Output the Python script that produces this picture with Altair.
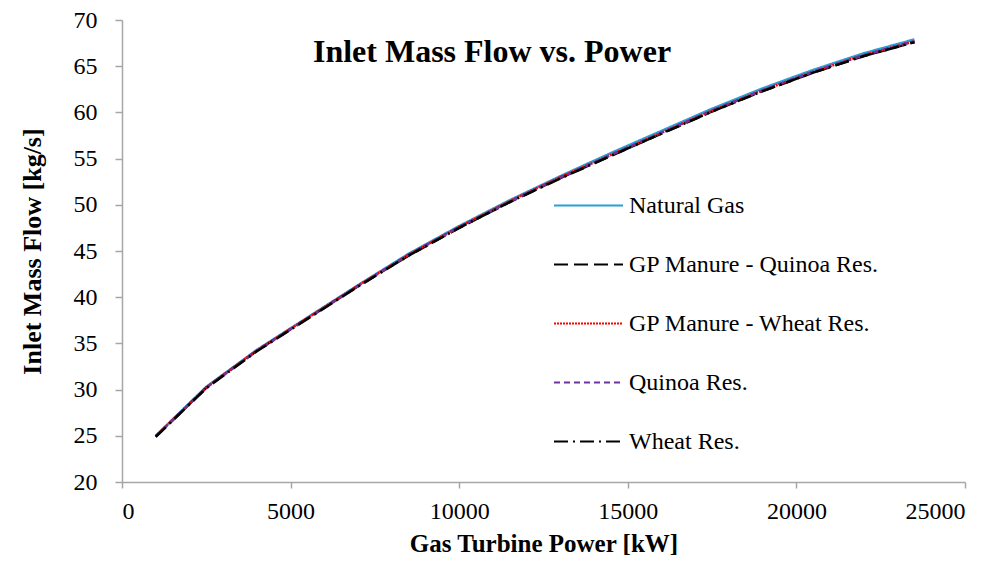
import altair as alt
import pandas as pd

power_kw = [1000, 2500, 4000, 5500, 7000, 8500, 10000, 11500, 13000, 14500,
            16000, 17500, 19000, 20500, 22000, 23500]

natural_gas = [25.0, 30.3, 34.3, 37.8, 41.3, 44.7, 47.7, 50.5, 53.1, 55.6,
               58.0, 60.4, 62.6, 64.6, 66.4, 67.9]
gp_quinoa = [24.9, 30.2, 34.2, 37.7, 41.2, 44.5, 47.5, 50.3, 52.9, 55.3,
             57.7, 60.1, 62.3, 64.3, 66.1, 67.6]
gp_wheat = [24.95, 30.25, 34.25, 37.75, 41.25, 44.6, 47.6, 50.4, 53.0, 55.4,
            57.8, 60.2, 62.4, 64.4, 66.2, 67.7]
quinoa_res = [24.95, 30.2, 34.2, 37.7, 41.2, 44.6, 47.6, 50.35, 52.95, 55.4,
              57.8, 60.2, 62.4, 64.4, 66.2, 67.7]
wheat_res = [24.9, 30.15, 34.15, 37.65, 41.15, 44.5, 47.5, 50.3, 52.85, 55.3,
             57.7, 60.1, 62.3, 64.3, 66.1, 67.6]

series_names = ["Natural Gas", "GP Manure - Quinoa Res.", "GP Manure - Wheat Res.",
                "Quinoa Res.", "Wheat Res."]
series_values = [natural_gas, gp_quinoa, gp_wheat, quinoa_res, wheat_res]
series_colors = ["#2a9fd6", "#000000", "#ff0000", "#7030a0", "#000000"]
series_dashes = [[1, 0], [14, 6], [2, 1], [6, 4], [14, 5, 2, 5]]

rows = []
for name, vals in zip(series_names, series_values):
    for i, (p, v) in enumerate(zip(power_kw, vals)):
        rows.append({"Fuel": name, "Power": p, "Flow": v, "order": i})
df = pd.DataFrame(rows)

FONT = "Liberation Serif"

lines = alt.Chart(df).mark_line(strokeWidth=2.5).encode(
    x=alt.X("Power:Q", title="Gas Turbine Power [kW]",
            scale=alt.Scale(domain=[0, 25000], nice=False),
            axis=alt.Axis(values=[0, 5000, 10000, 15000, 20000, 25000], format="d")),
    y=alt.Y("Flow:Q", title="Inlet Mass Flow [kg/s]",
            scale=alt.Scale(domain=[20, 70], nice=False, zero=False),
            axis=alt.Axis(values=[20, 25, 30, 35, 40, 45, 50, 55, 60, 65, 70])),
    color=alt.Color("Fuel:N", title=None,
                    scale=alt.Scale(domain=series_names, range=series_colors),
                    legend=alt.Legend(orient="none", legendX=431, legendY=150,
                                      symbolType="stroke", symbolSize=4761,
                                      symbolStrokeWidth=2, labelFont=FONT,
                                      labelFontSize=24, labelColor="#000000",
                                      labelOffset=5, rowPadding=11,
                                      labelLimit=400)),
    strokeDash=alt.StrokeDash("Fuel:N", title=None,
                              scale=alt.Scale(domain=series_names, range=series_dashes)),
    order="order:Q",
)

title_df = pd.DataFrame({"t": ["Inlet Mass Flow vs. Power"]})
title = alt.Chart(title_df).mark_text(
    font=FONT, fontSize=32, fontWeight="bold", color="#000000",
    align="center", baseline="middle"
).encode(text="t:N", x=alt.value(370), y=alt.value(32))

chart = alt.layer(lines, title).properties(
    width=843, height=462,
    autosize=alt.AutoSizeParams(type="none"),
    padding={"left": 114, "top": 12, "right": 29, "bottom": 75},
).configure_view(stroke=None).configure_axis(
    grid=False,
    domainColor="#a6a6a6", domainWidth=1.5,
    tickColor="#a6a6a6", tickWidth=1.5,
    labelFont=FONT, labelFontSize=24, labelColor="#000000",
    titleFont=FONT, titleFontWeight="bold", titleColor="#000000",
).configure_axisY(
    tickSize=7, labelPadding=18, titlePadding=28, titleFontSize=26,
).configure_axisX(
    tickSize=6, labelPadding=11, titlePadding=8, titleFontSize=25,
)

chart.save("out.html", embed_options={"renderer": "svg", "actions": False})
